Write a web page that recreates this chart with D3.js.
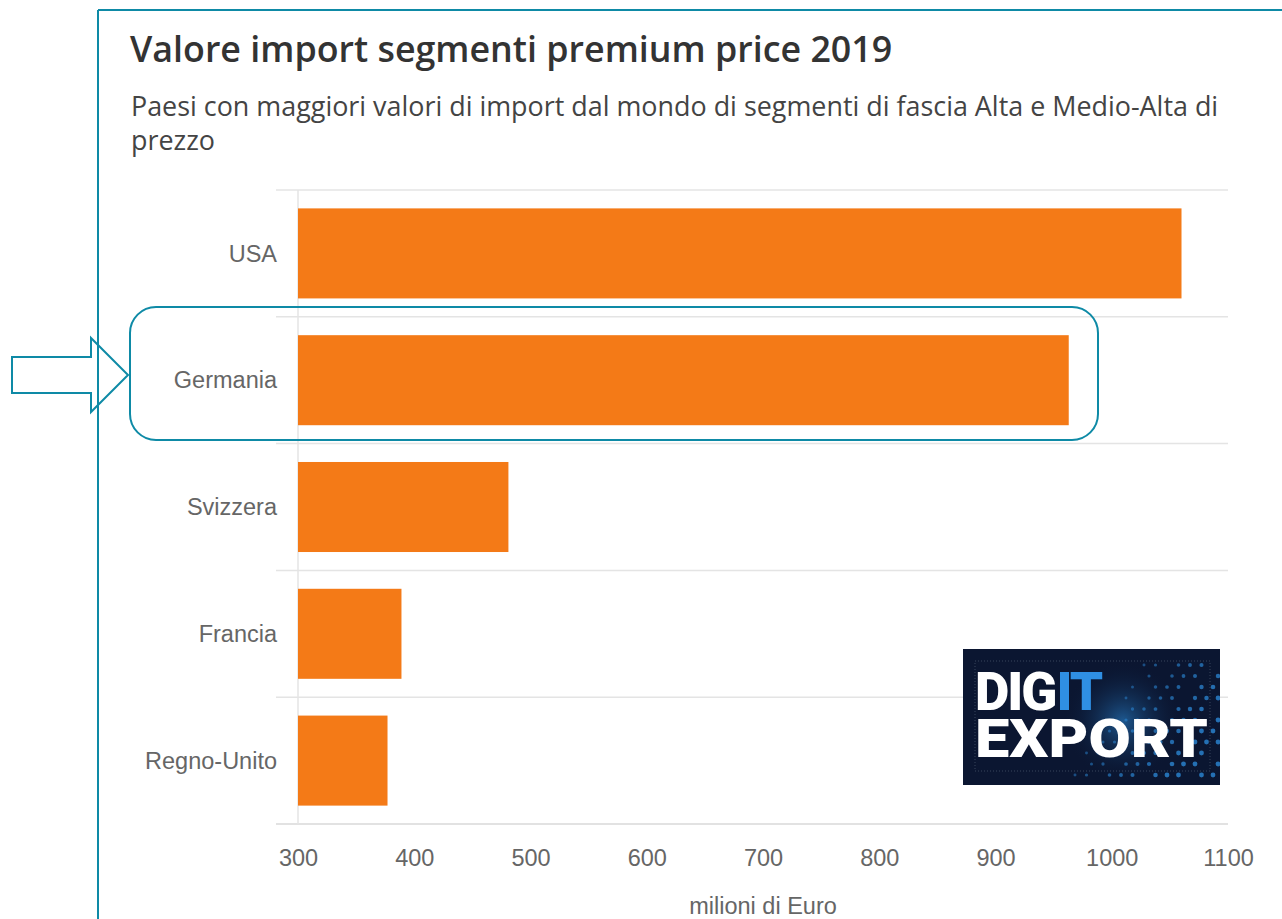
<!DOCTYPE html>
<html>
<head>
<meta charset="utf-8">
<script src="https://cdn.jsdelivr.net/npm/d3@7"></script>
<style>
  body { margin: 0; background: #fff; }
  svg { display: block; }
</style>
</head>
<body>
<div id="chart"></div>
<script>
// data
const countries = ["USA", "Germania", "Svizzera", "Francia", "Regno-Unito"];
const values = [1060, 963, 481, 389, 377];
const xTicks = [300, 400, 500, 600, 700, 800, 900, 1000, 1100];

const titleText = "Valore import segmenti premium price 2019";
const subtitleLines = ["Paesi con maggiori valori di import dal mondo di segmenti di fascia Alta e Medio-Alta di", "prezzo"];
const axisTitle = "milioni di Euro";

const W = 1282, H = 919;
const teal = "#0e8aa6";
const labelFont = "'Liberation Sans', Arial, sans-serif";

let svg = d3.select("#chart").append("svg")
    .attr("width", W)
    .attr("height", H);

// frame lines
svg.append("line").attr("x1", 98).attr("x2", 98).attr("y1", 10).attr("y2", H)
    .attr("stroke", teal).attr("stroke-width", 2);
svg.append("line").attr("x1", 98).attr("x2", W).attr("y1", 10).attr("y2", 10)
    .attr("stroke", teal).attr("stroke-width", 2);

// title + subtitle
svg.append("text")
    .attr("x", 130).attr("y", 62)
    .attr("font-family", "'Open Sans', sans-serif")
    .attr("font-weight", 600)
    .attr("font-size", 35.8)
    .attr("fill", "#333")
    .text(titleText);

svg.selectAll(".sub").data(subtitleLines).enter().append("text")
    .attr("class", "sub")
    .attr("x", 131)
    .attr("y", (d, i) => 116 + i * 34)
    .attr("font-family", "'Open Sans', sans-serif")
    .attr("font-size", 26.9)
    .attr("fill", "#444")
    .text(d => d);

// scales
let x = d3.scaleLinear().domain([300, 1100]).range([298, 1228]);
let y = d3.scaleBand().domain(countries).range([190, 824]).paddingInner(0.29).paddingOuter(0.145);

// horizontal grid lines between categories
let gridYs = d3.range(countries.length + 1).map(i => 190 + i * y.step());
svg.selectAll(".grid").data(gridYs).enter().append("line")
    .attr("class", "grid")
    .attr("x1", 276).attr("x2", 1228)
    .attr("y1", d => d).attr("y2", d => d)
    .attr("stroke", (d, i) => i === countries.length ? "#d8d8d8" : "#e4e4e4")
    .attr("stroke-width", 1.5);

svg.append("line")
    .attr("x1", x(300)).attr("x2", x(300))
    .attr("y1", 190).attr("y2", 824)
    .attr("stroke", "#e4e4e4").attr("stroke-width", 1.5);

// bars
svg.selectAll(".bar").data(countries).enter().append("rect")
    .attr("class", "bar")
    .attr("x", x(300))
    .attr("y", d => y(d))
    .attr("width", (d, i) => x(values[i]) - x(300))
    .attr("height", y.bandwidth())
    .attr("fill", "#f47a17");

// category labels
svg.selectAll(".cat").data(countries).enter().append("text")
    .attr("class", "cat")
    .attr("x", 277)
    .attr("y", d => y(d) + y.bandwidth() / 2)
    .attr("dy", "0.35em")
    .attr("text-anchor", "end")
    .attr("font-family", labelFont)
    .attr("font-size", 23.5)
    .attr("fill", "#666")
    .text(d => d);

// x axis
let xAxis = d3.axisBottom(x).tickValues(xTicks).tickFormat(d3.format("d")).tickSize(0).tickPadding(0);
let gx = svg.append("g").attr("transform", "translate(0,824)").call(xAxis);
gx.select(".domain").remove();
gx.selectAll("text")
    .attr("y", 34)
    .attr("dy", "0.35em")
    .attr("font-family", labelFont)
    .attr("font-size", 23.5)
    .attr("fill", "#666");

svg.append("text")
    .attr("x", 763).attr("y", 906)
    .attr("dy", "0.35em")
    .attr("text-anchor", "middle")
    .attr("font-family", labelFont)
    .attr("font-size", 23.5)
    .attr("fill", "#666")
    .text(axisTitle);

// highlight box around Germania
svg.append("rect")
    .attr("x", 130).attr("y", 307)
    .attr("width", 968).attr("height", 133)
    .attr("rx", 26).attr("ry", 26)
    .attr("fill", "none")
    .attr("stroke", teal).attr("stroke-width", 2);

// block arrow
let arrowPts = [[12, 357], [91, 357], [91, 338], [128, 375], [91, 412], [91, 393], [12, 393]];
svg.append("polygon")
    .attr("points", arrowPts.map(p => p.join(",")).join(" "))
    .attr("fill", "#fff")
    .attr("stroke", teal).attr("stroke-width", 2);
// frame line passes over the arrow
svg.append("line").attr("x1", 98).attr("x2", 98).attr("y1", 330).attr("y2", 420)
    .attr("stroke", teal).attr("stroke-width", 2);

// logo
let defs = svg.append("defs");
defs.append("clipPath").attr("id", "logoclip")
    .append("rect").attr("width", 257).attr("height", 136);
let glow = defs.append("radialGradient").attr("id", "glow");
glow.append("stop").attr("offset", "0%").attr("stop-color", "#1f5f9a").attr("stop-opacity", 0.9);
glow.append("stop").attr("offset", "100%").attr("stop-color", "#0b1631").attr("stop-opacity", 0);

let logo = svg.append("g").attr("transform", "translate(963,649)").attr("clip-path", "url(#logoclip)");
logo.append("rect").attr("width", 257).attr("height", 136).attr("fill", "#0b1631");
logo.append("circle").attr("cx", 160).attr("cy", 72).attr("r", 60).attr("fill", "url(#glow)");
// dotted field
let dots = [];
for (let r = 0; r < 11; r++) {
  for (let c = 0; c < 13; c++) {
    let px = 112 + c * 11.5 + (r % 2) * 5;
    let py = 16 + r * 11;
    let s = (c + r * 0.6) / 14;
    if (s > 0.4 && (r * 7 + c * 3) % 4 !== 0) dots.push([px, py, Math.min(1, s)]);
  }
}
logo.selectAll(".dot").data(dots).enter().append("circle")
    .attr("cx", d => d[0]).attr("cy", d => d[1])
    .attr("r", d => 0.8 + d[2] * 1.6)
    .attr("fill", "#2e8fe0")
    .attr("opacity", d => 0.25 + d[2] * 0.5);
logo.append("rect").attr("x", 12).attr("y", 12).attr("width", 235).attr("height", 110)
    .attr("fill", "none").attr("stroke", "#8899aa").attr("stroke-width", 0.6)
    .attr("stroke-dasharray", "1,2").attr("opacity", 0.6);
let dig = logo.append("text")
    .attr("x", 12).attr("y", 61)
    .attr("font-family", "Roboto, 'Liberation Sans', sans-serif")
    .attr("font-weight", 900)
    .attr("font-size", 53)
    .attr("letter-spacing", -2)
    .attr("fill", "#fff")
    .text("DIG");
let digW = dig.node().getComputedTextLength();
logo.append("text")
    .attr("x", 12 + digW + 1).attr("y", 61)
    .attr("font-family", "Roboto, 'Liberation Sans', sans-serif")
    .attr("font-weight", 900)
    .attr("font-size", 53)
    .attr("letter-spacing", -2)
    .attr("fill", "#2f8fe3")
    .text("IT");
logo.append("text")
    .attr("x", 12).attr("y", 108)
    .attr("font-family", "Roboto, 'Liberation Sans', sans-serif")
    .attr("font-weight", 900)
    .attr("font-size", 53)
    .attr("textLength", 233)
    .attr("lengthAdjust", "spacingAndGlyphs")
    .attr("fill", "#fff")
    .text("EXPORT");
</script>
</body>
</html>
